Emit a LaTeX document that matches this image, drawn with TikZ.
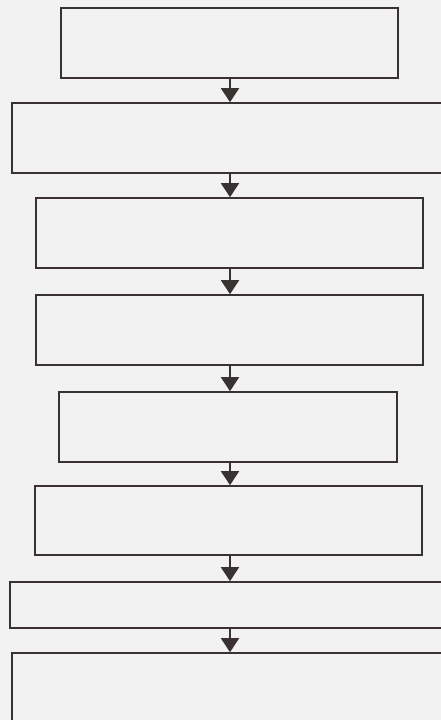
\documentclass[tikz,border=0pt]{standalone}
\usetikzlibrary{arrows.meta}
\definecolor{bg}{HTML}{F2F2F2}
\definecolor{ink}{HTML}{3A3232}
\begin{document}
\begin{tikzpicture}[x=1pt,y=-1pt,
  box/.style={draw=ink,line width=1.6pt,rectangle,inner sep=0pt},
  arr/.style={draw=ink,line width=1.6pt,-{Triangle[width=18pt,length=14pt]}}]
\useasboundingbox (0,0) rectangle (441,720);
\clip (0,0) rectangle (441,720);
\fill[bg] (0,0) rectangle (441,720);
\coordinate (ax) at (230,0);
\node[box,minimum width=337pt,minimum height=70pt] (b1) at (229.5,43) {};
\node[box,minimum width=433pt,minimum height=70pt] (b2) at (228.5,138) {};
\node[box,minimum width=387pt,minimum height=70pt] (b3) at (229.5,233) {};
\node[box,minimum width=387pt,minimum height=70pt] (b4) at (229.5,330) {};
\node[box,minimum width=338pt,minimum height=70pt] (b5) at (228,427) {};
\node[box,minimum width=387pt,minimum height=69pt] (b6) at (228.5,520.5) {};
\node[box,minimum width=435pt,minimum height=46pt] (b7) at (227.5,605) {};
\node[box,minimum width=433pt,minimum height=72pt] (b8) at (228.5,689) {};
\foreach \a/\b in {b1/b2,b2/b3,b3/b4,b4/b5,b5/b6,b6/b7,b7/b8}
  \draw[arr] (\a.south -| ax) -- (\b.north -| ax);
\end{tikzpicture}
\end{document}
